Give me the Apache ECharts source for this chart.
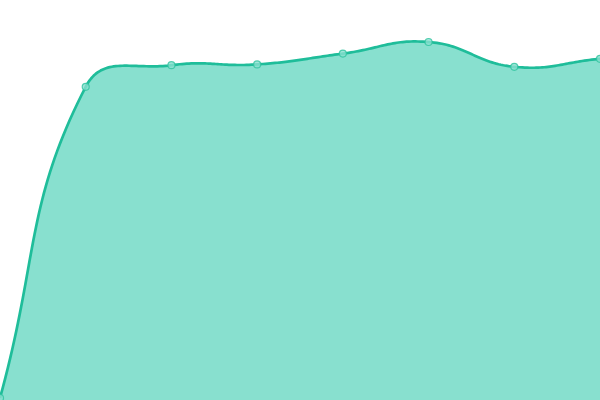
<!DOCTYPE html>
<html>
<head>
<meta charset="utf-8">
<script src="https://cdn.jsdelivr.net/npm/echarts@6/dist/echarts.min.js"></script>
<style>
  html, body { margin: 0; padding: 0; background: #fff; }
  #chart { width: 600px; height: 400px; }
</style>
</head>
<body>
<div id="chart"></div>
<script>
var categories = ['1', '2', '3', '4', '5', '6', '7', '8'];
var values = [0.5, 78.3, 83.7, 83.9, 86.6, 89.5, 83.3, 85.3];

var TENSION = 0.45;

// spline control points (tension style, endpoints pull toward neighbour)
function controlPoints(pts, t) {
    var cps = [];
    for (var i = 0; i < pts.length; i++) {
        var prev = pts[Math.max(i - 1, 0)];
        var cur = pts[i];
        var next = pts[Math.min(i + 1, pts.length - 1)];
        var d01 = Math.sqrt(Math.pow(cur[0] - prev[0], 2) + Math.pow(cur[1] - prev[1], 2));
        var d12 = Math.sqrt(Math.pow(next[0] - cur[0], 2) + Math.pow(next[1] - cur[1], 2));
        var s01 = d01 / (d01 + d12);
        var s12 = d12 / (d01 + d12);
        s01 = isNaN(s01) ? 0 : s01;
        s12 = isNaN(s12) ? 0 : s12;
        var fa = t * s01, fb = t * s12;
        cps.push({
            prev: [cur[0] - fa * (next[0] - prev[0]), cur[1] - fa * (next[1] - prev[1])],
            next: [cur[0] + fb * (next[0] - prev[0]), cur[1] + fb * (next[1] - prev[1])]
        });
    }
    return cps;
}

function sampleCurve(pts, t) {
    var cps = controlPoints(pts, t);
    var out = [pts[0]];
    for (var i = 0; i < pts.length - 1; i++) {
        var p0 = pts[i], c0 = cps[i].next, c1 = cps[i + 1].prev, p1 = pts[i + 1];
        for (var k = 1; k <= 40; k++) {
            var u = k / 40, m = 1 - u;
            var a = m * m * m, b = 3 * m * m * u, c = 3 * m * u * u, d = u * u * u;
            out.push([
                a * p0[0] + b * c0[0] + c * c1[0] + d * p1[0],
                a * p0[1] + b * c0[1] + c * c1[1] + d * p1[1]
            ]);
        }
    }
    return out;
}

var chart = echarts.init(document.getElementById('chart'));

chart.setOption({
    animation: false,
    grid: { left: 0, right: 0, top: 0, bottom: 0 },
    xAxis: {
        type: 'category',
        boundaryGap: false,
        data: categories,
        show: false
    },
    yAxis: {
        type: 'value',
        min: 0,
        max: 100,
        show: false
    },
    series: [
        {
            type: 'custom',
            data: values,
            renderItem: function (params, api) {
                if (params.dataIndex !== 0) {
                    return null;
                }
                var pts = [];
                for (var i = 0; i < values.length; i++) {
                    pts.push(api.coord([i, values[i]]));
                }
                var curve = sampleCurve(pts, TENSION);
                var base = api.coord([0, 0])[1];
                var area = curve.concat([[pts[pts.length - 1][0], base], [pts[0][0], base]]);
                return {
                    type: 'group',
                    children: [
                        {
                            type: 'polygon',
                            shape: { points: area },
                            style: { fill: '#88e0cf', stroke: null }
                        },
                        {
                            type: 'polyline',
                            shape: { points: curve },
                            style: { fill: null, stroke: '#1fbd9a', lineWidth: 2.7, lineJoin: 'round' }
                        }
                    ]
                };
            }
        },
        {
            type: 'scatter',
            data: values,
            symbol: 'circle',
            symbolSize: 7,
            itemStyle: {
                color: '#8ae0cf',
                borderColor: '#2fc39f',
                borderWidth: 1.2
            }
        }
    ]
});
</script>
</body>
</html>
